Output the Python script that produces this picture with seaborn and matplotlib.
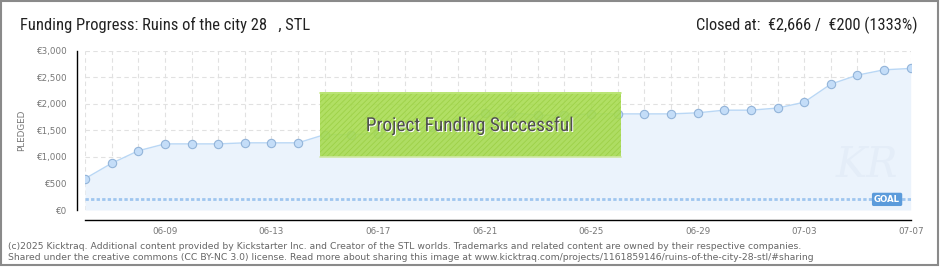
import numpy as np
import pandas as pd
import matplotlib
matplotlib.use("Agg")
import matplotlib.pyplot as plt
import seaborn as sns
from matplotlib import font_manager
from matplotlib.patches import Rectangle
import matplotlib.patheffects as pe

# ---------------- data ----------------
dates = ['06-06', '06-07', '06-08', '06-09', '06-10', '06-11', '06-12', '06-13',
         '06-14', '06-15', '06-16', '06-17', '06-18', '06-19', '06-20', '06-21',
         '06-22', '06-23', '06-24', '06-25', '06-26', '06-27', '06-28', '06-29',
         '06-30', '07-01', '07-02', '07-03', '07-04', '07-05', '07-06', '07-07']
pledged = [590, 880, 1115, 1245, 1245, 1245, 1265, 1265,
           1265, 1420, 1420, 1440, 1500, 1560, 1650, 1830,
           1830, 1785, 1785, 1810, 1810, 1810, 1810, 1830,
           1880, 1880, 1920, 2030, 2370, 2540, 2640, 2666]
goal = 200
x_tick_labels = ['06-09', '06-13', '06-17', '06-21', '06-25', '06-29', '07-03', '07-07']
y_ticks = [0, 500, 1000, 1500, 2000, 2500, 3000]
y_tick_labels = ['€0', '€500', '€1,000', '€1,500', '€2,000', '€2,500', '€3,000']
title = 'Funding Progress: Ruins of the city 28   , STL'
closed_text = 'Closed at:  €2,666 /  €200 (1333%)'
banner_text = 'Project Funding Successful'
footer1 = ('(c)2025 Kicktraq. Additional content provided by Kickstarter Inc. and Creator of the '
           'STL worlds. Trademarks and related content are owned by their respective companies.')
footer2 = ('Shared under the creative commons (CC BY-NC 3.0) license. Read more about sharing this '
           'image at www.kicktraq.com/projects/1161859146/ruins-of-the-city-28-stl/#sharing')

# ---------------- style ----------------
sns.set_theme(style='white')
avail = {f.name for f in font_manager.fontManager.ttflist}
narrow = next((f for f in ['Liberation Sans Narrow', 'DejaVu Sans Condensed', 'Roboto Condensed']
               if f in avail), 'Roboto' if 'Roboto' in avail else 'DejaVu Sans')
plt.rcParams['font.family'] = ['DejaVu Sans']
plt.rcParams['hatch.linewidth'] = 0.6

W, H = 940, 270
fig = plt.figure(figsize=(W / 100, H / 100), dpi=100)
fig.patch.set_facecolor('white')


def fx(px):
    return px / W


def fy(py):
    return 1 - py / H


ax = fig.add_axes([fx(85), fy(210), fx(910.7) - fx(85), fy(50.7) - fy(210)])
ax.set_facecolor('none')

df = pd.DataFrame({'day': np.arange(len(dates)), 'date': dates, 'pledged': pledged})

ax.fill_between(df['day'], 0, df['pledged'], color='#EBF3FC', zorder=1, lw=0)
# faint watermark
ax.text(0.985, 0.15, 'KR', transform=ax.transAxes, fontsize=30, style='italic',
        color='#E4EDF8', ha='right', va='bottom', zorder=1.5, family='DejaVu Serif')

sns.lineplot(data=df, x='day', y='pledged', ax=ax, color='#B9D7F5', lw=1.0,
             marker='o', markersize=6, markerfacecolor='#C4DDF8',
             markeredgecolor='#93B4D9', markeredgewidth=0.8, zorder=3)

ax.axhline(goal, color='#9FC6EF', lw=2.0, dashes=(1.2, 0.8), zorder=2)
ax.annotate('GOAL', xy=(1, goal), xycoords=('axes fraction', 'data'),
            xytext=(-17, 0), textcoords='offset points', ha='center', va='center',
            fontsize=6.2, fontweight='bold', color='white', zorder=5,
            bbox=dict(boxstyle='round,pad=0.25,rounding_size=0.2', fc='#5B9BDB', ec='none'))

ax.set_xlim(0, len(dates) - 1)
ax.set_ylim(0, 3000)
ax.set_xticks(df['day'])
ax.set_xticklabels([d if d in x_tick_labels else '' for d in dates])
ax.set_yticks(y_ticks)
ax.set_yticklabels(y_tick_labels)
ax.set_yticks(np.arange(250, 3000, 500), minor=True)
ax.set_xlabel('')
ax.set_ylabel('')

ax.grid(True, which='major', color='#E1E1E1', linestyle=(0, (4, 3)), lw=0.8, zorder=0)
ax.set_axisbelow(True)

for s in ['top', 'right']:
    ax.spines[s].set_visible(False)
ax.spines['left'].set_position(('outward', 8 * 0.72))
ax.spines['bottom'].set_position(('outward', 10 * 0.72))
for s in ['left', 'bottom']:
    ax.spines[s].set_color('black')
    ax.spines[s].set_linewidth(1.0)

ax.tick_params(axis='y', which='major', direction='out', length=4, width=1.0,
               color='black', labelsize=6.3, labelcolor='#777777', pad=3)
ax.tick_params(axis='y', which='minor', direction='out', length=3, width=1.0,
               color='#D40000')
ax.tick_params(axis='x', which='major', direction='inout', length=6, width=1.0,
               color='black', labelsize=6.3, labelcolor='#777777', pad=2)

# ---------------- banner ----------------
bx0, by0, bx1, by1 = 320, 92, 621, 157
banner = Rectangle((fx(bx0), fy(by1)), fx(bx1) - fx(bx0), fy(by0) - fy(by1),
                   transform=fig.transFigure, facecolor='#A6DB4E', alpha=0.88,
                   edgecolor='#9BCF44', hatch='//////', lw=0, zorder=10)
fig.add_artist(banner)
fig.add_artist(plt.Line2D([fx(bx0), fx(bx1)], [fy(by0 + 0.5)] * 2, transform=fig.transFigure,
                          color='#BDE67A', lw=1.2, zorder=11))
fig.add_artist(plt.Line2D([fx(bx0), fx(bx1)], [fy(by1 - 0.5)] * 2, transform=fig.transFigure,
                          color='#CFE8A2', lw=1.2, zorder=11))

texts_to_fit = []
bt = fig.text(fx(470), fy(126), banner_text, ha='center', va='center', fontsize=13,
              color='#505050', family=[narrow, 'DejaVu Sans'], zorder=12,
              path_effects=[pe.withSimplePatchShadow(offset=(0.7, -0.7),
                                                     shadow_rgbFace='white', alpha=1.0)])
texts_to_fit.append((bt, 207))

# ---------------- header ----------------
tt = fig.text(fx(20), fy(30), title, ha='left', va='baseline', fontsize=11,
              color='#222222', family=[narrow, 'DejaVu Sans'])
texts_to_fit.append((tt, 290))
ct = fig.text(fx(917), fy(30), closed_text, ha='right', va='baseline', fontsize=11,
              color='#222222', family=[narrow, 'DejaVu Sans'])
texts_to_fit.append((ct, 223))

fig.text(fx(22), fy(130), 'PLEDGED', rotation=90, ha='center', va='center',
         fontsize=6.3, color='#777777')

# ---------------- footer ----------------
f1 = fig.text(fx(8), fy(249), footer1, ha='left', va='baseline', fontsize=6.5, color='#666666')
f2 = fig.text(fx(8), fy(260), footer2, ha='left', va='baseline', fontsize=6.5, color='#666666')

# fit widths
fig.canvas.draw()
renderer = fig.canvas.get_renderer()
for t, target in texts_to_fit:
    w = t.get_window_extent(renderer).width
    t.set_fontsize(t.get_fontsize() * target / w)
w1 = f1.get_window_extent(renderer).width
fs = f1.get_fontsize() * 792 / w1
f1.set_fontsize(fs)
f2.set_fontsize(fs)

# outer border
fig.add_artist(Rectangle((fx(1), fy(265)), fx(938) - fx(1), fy(1) - fy(265),
                         transform=fig.transFigure, fill=False, ec='#8A8A8A', lw=1.5, zorder=20))

fig.savefig('out.png', dpi=100)
